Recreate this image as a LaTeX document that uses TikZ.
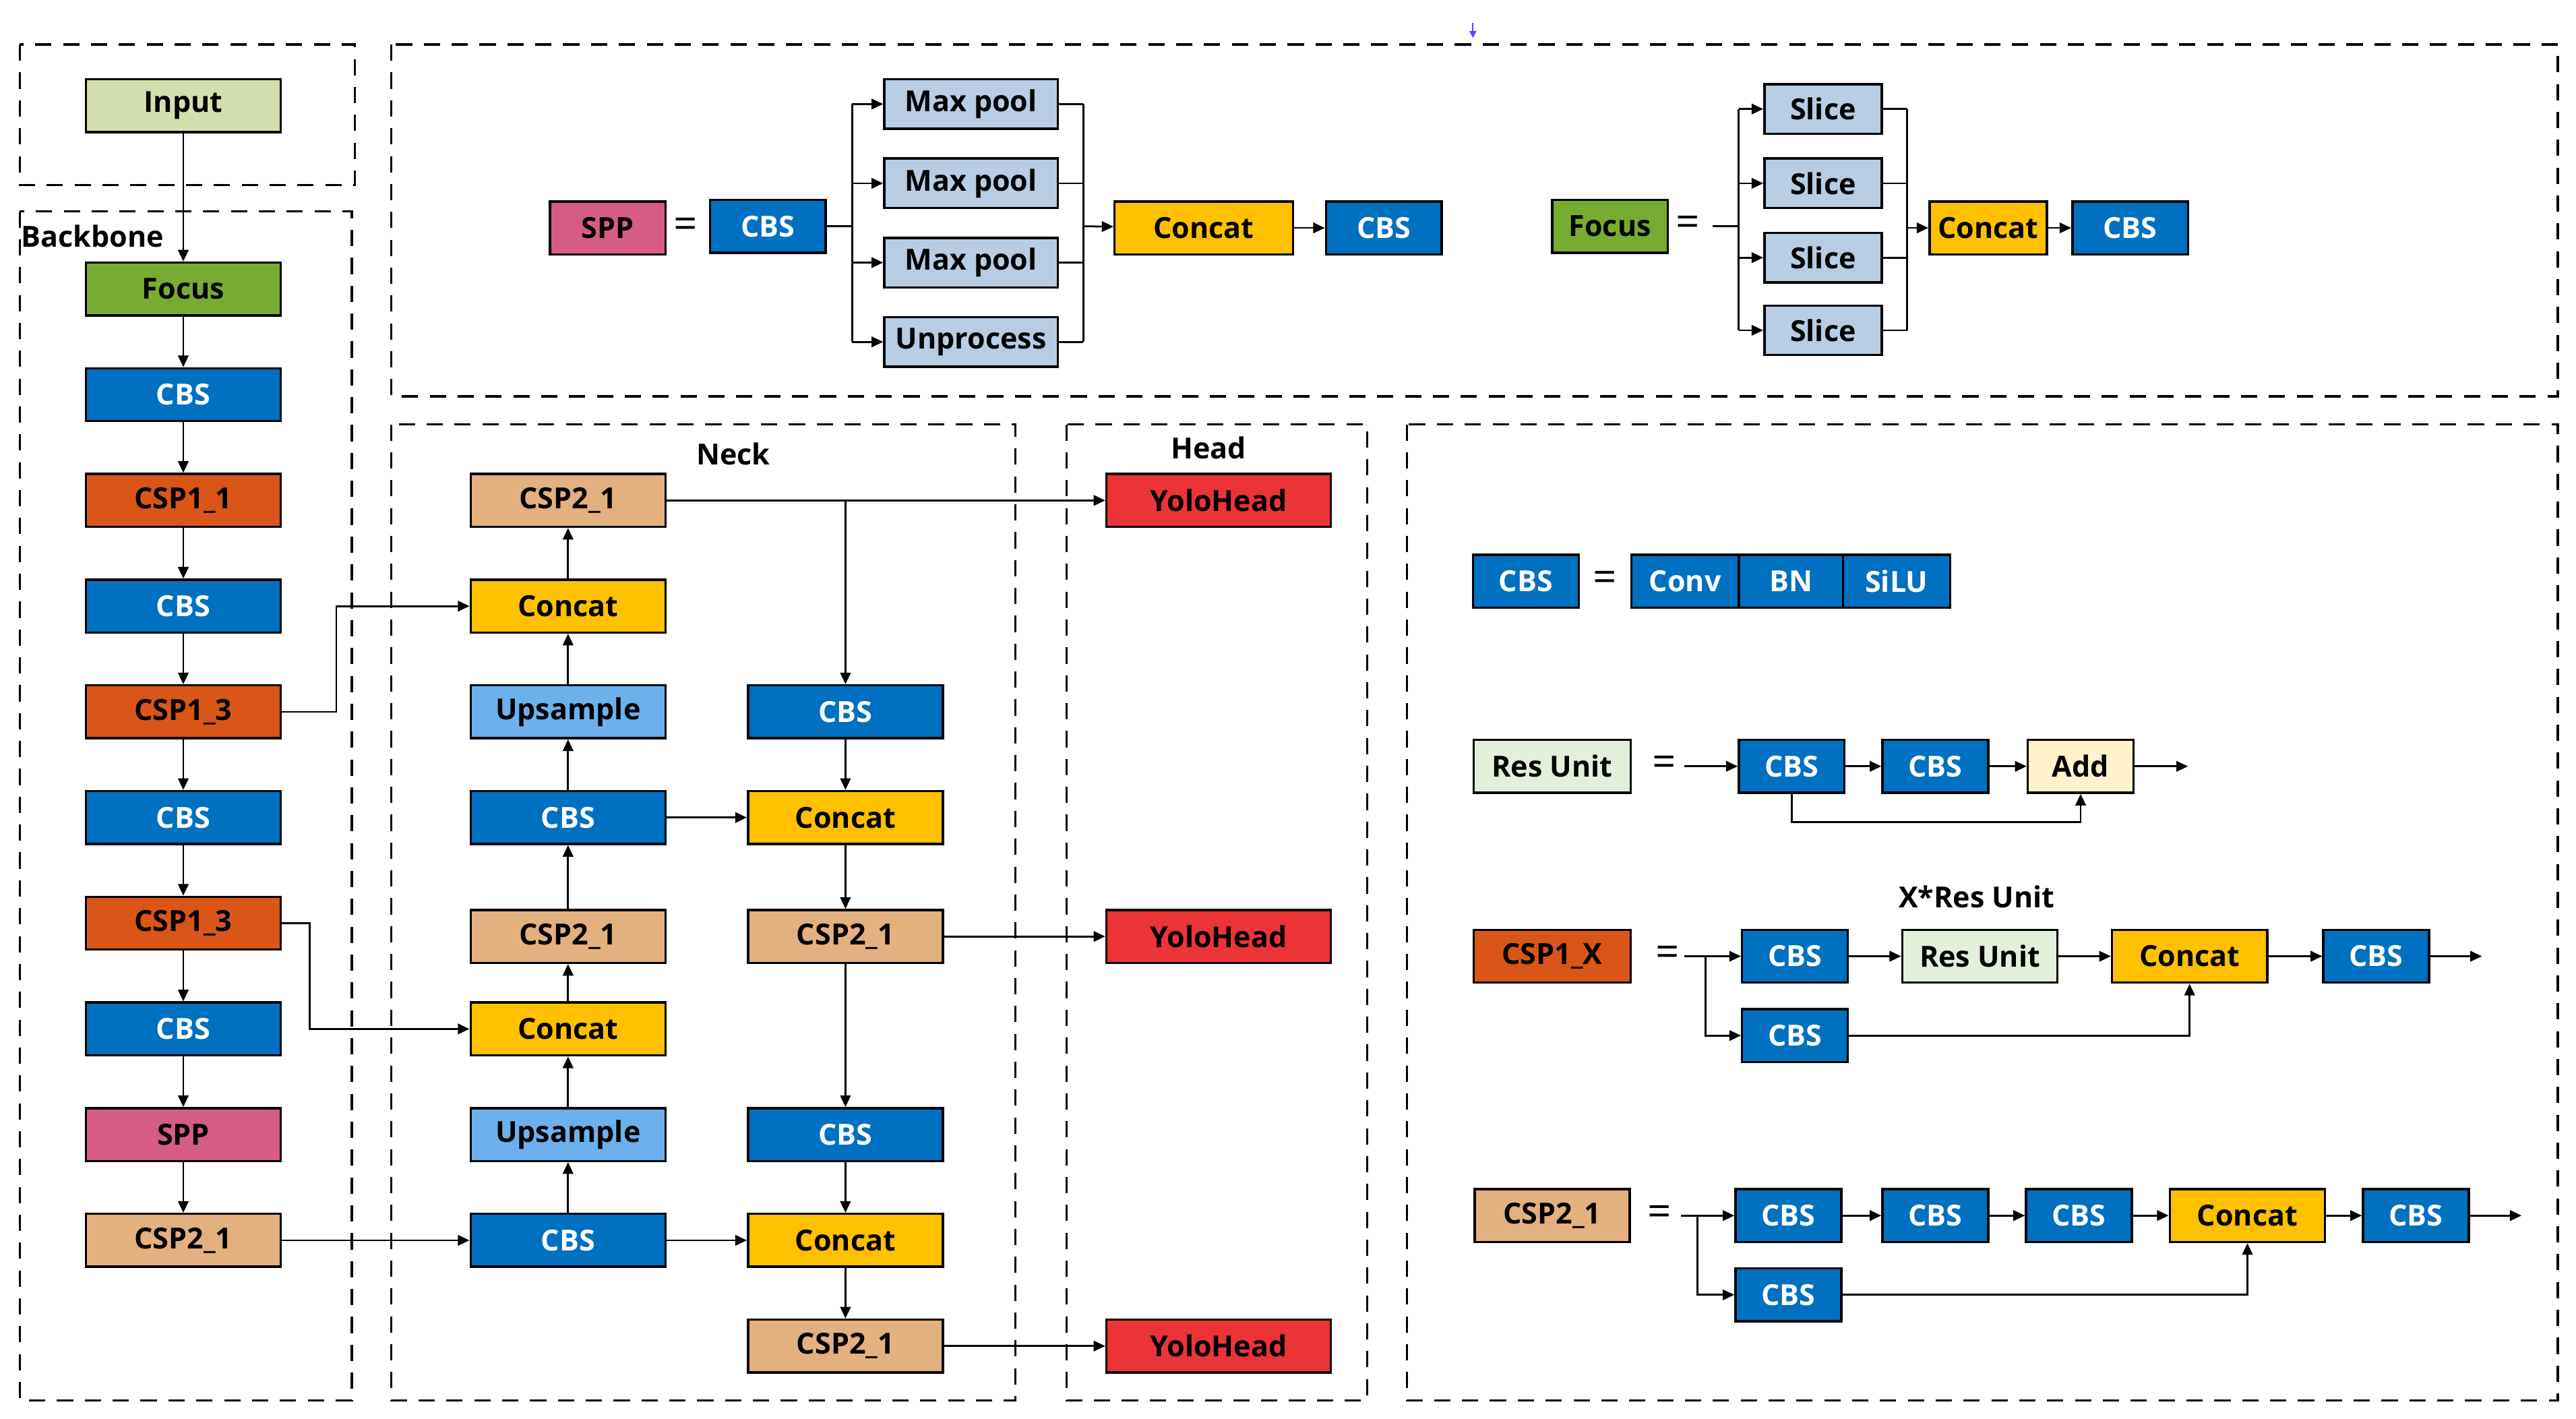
\documentclass[tikz,border=0pt]{standalone}
\usepackage{fontspec}
\setmainfont{Open Sans}
\usetikzlibrary{arrows.meta}
\def\pxu{*0.025cm}
\definecolor{cbs}{HTML}{0070C0}
\definecolor{inp}{HTML}{D3DFAE}
\definecolor{foc}{HTML}{78AB32}
\definecolor{csp1}{HTML}{D95618}
\definecolor{spp}{HTML}{D65C87}
\definecolor{csp2}{HTML}{E3B080}
\definecolor{cat}{HTML}{FFC000}
\definecolor{ups}{HTML}{6CB0EC}
\definecolor{yolo}{HTML}{EC3338}
\definecolor{mp}{HTML}{B8CCE4}
\definecolor{res}{HTML}{E2EFDA}
\definecolor{add}{HTML}{FFF2CC}
\begin{document}
\begin{tikzpicture}[x=0.025cm,y=-0.025cm,
  box/.style={draw=black,line width=1pt,inner sep=0pt,minimum height=32\pxu,font=\fontsize{12.5}{14}\selectfont\bfseries},
  w/.style={minimum width=#1\pxu},
  CBS/.style={box,fill=cbs,text=white},
  ar/.style={-{Triangle[length=5pt,width=4.5pt]},line width=0.8pt},
  ln/.style={line width=0.8pt},
  dsh/.style={line width=1pt,dash pattern=on 7pt off 5pt},
  lab/.style={font=\fontsize{12.5}{14}\selectfont\bfseries},
  eq/.style={font=\fontsize{18}{18}\selectfont}]
\useasboundingbox (0,0) rectangle (1560,859);
% dashed frames
\draw[dsh] (12,27) rectangle (215,112);
\draw[dsh] (12,128) rectangle (213,848);
\draw[dsh] (237,27) rectangle (1549,240);
\draw[dsh] (237,257) rectangle (615,848);
\draw[dsh] (646,257) rectangle (828,848);
\draw[dsh] (852,257) rectangle (1549,848);
\node[lab] (lbb) at (56,143) {Backbone};
\node[lab] (lneck) at (444,275) {Neck};
\node[lab] (lhead) at (732,271) {Head};
\coordinate (tm) at (892,14);
\coordinate (tm2) at (892,23);
\draw[-{Triangle[length=3pt,width=3pt]},blue!70,line width=0.6pt] (tm) -- (tm2);
% backbone
\node[box,w=118,fill=inp] (in) at (111,64) {Input};
\node[box,w=118,fill=foc] (fo) at (111,175) {Focus};
\node[CBS,w=118] (b1) at (111,239) {CBS};
\node[box,w=118,fill=csp1] (c11) at (111,303) {CSP1\_1};
\node[CBS,w=118] (b2) at (111,367) {CBS};
\node[box,w=118,fill=csp1] (c13a) at (111,431) {CSP1\_3};
\node[CBS,w=118] (b3) at (111,495) {CBS};
\node[box,w=118,fill=csp1] (c13b) at (111,559) {CSP1\_3};
\node[CBS,w=118] (b4) at (111,623) {CBS};
\node[box,w=118,fill=spp] (sp) at (111,687) {SPP};
\node[box,w=118,fill=csp2] (c21) at (111,751) {CSP2\_1};
\foreach \a/\b in {in/fo,fo/b1,b1/c11,c11/b2,b2/c13a,c13a/b3,b3/c13b,c13b/b4,b4/sp,sp/c21} \draw[ar] (\a) -- (\b);
% neck col A
\node[box,w=118,fill=csp2] (na1) at (344,303) {CSP2\_1};
\node[box,w=118,fill=cat] (na2) at (344,367) {Concat};
\node[box,w=118,fill=ups] (na3) at (344,431) {Upsample};
\node[CBS,w=118] (na4) at (344,495) {CBS};
\node[box,w=118,fill=csp2] (na5) at (344,567) {CSP2\_1};
\node[box,w=118,fill=cat] (na6) at (344,623) {Concat};
\node[box,w=118,fill=ups] (na7) at (344,687) {Upsample};
\node[CBS,w=118] (na8) at (344,751) {CBS};
\foreach \a/\b in {na8/na7,na7/na6,na6/na5,na5/na4,na4/na3,na3/na2,na2/na1} \draw[ar] (\a) -- (\b);
% neck col B
\node[CBS,w=118] (nb1) at (512,431) {CBS};
\node[box,w=118,fill=cat] (nb2) at (512,495) {Concat};
\node[box,w=118,fill=csp2] (nb3) at (512,567) {CSP2\_1};
\node[CBS,w=118] (nb4) at (512,687) {CBS};
\node[box,w=118,fill=cat] (nb5) at (512,751) {Concat};
\node[box,w=118,fill=csp2] (nb6) at (512,815) {CSP2\_1};
\foreach \a/\b in {nb1/nb2,nb2/nb3,nb3/nb4,nb4/nb5,nb5/nb6} \draw[ar] (\a) -- (\b);
% head
\node[box,w=136,fill=yolo] (h1) at (738,303) {YoloHead};
\node[box,w=136,fill=yolo] (h2) at (738,567) {YoloHead};
\node[box,w=136,fill=yolo] (h3) at (738,815) {YoloHead};
\draw[ar] (na1) -- (h1);
\draw[ar] (na1.east -| nb1) -- (nb1);
\draw[ar] (nb3) -- (h2);
\draw[ar] (nb6) -- (h3);
\draw[ar] (na4) -- (nb2);
\draw[ar] (na8) -- (nb5);
\draw[ar] (c21) -- (na8);
\draw[ar] (c13a.east) -- ++(33,0) |- (na2.west);
\draw[ar] (c13b.east) -- ++(17,0) |- (na6.west);
% SPP top
\node[box,w=70,fill=spp] (spp) at (368,138) {SPP};
\node[eq] (eq1) at (415,138) {=};
\node[CBS,w=70] (sc) at (465,137) {CBS};
\node[box,w=105,minimum height=30\pxu,fill=mp] (m1) at (588,63) {Max pool};
\node[box,w=105,minimum height=30\pxu,fill=mp] (m2) at (588,111) {Max pool};
\node[box,w=105,minimum height=30\pxu,fill=mp] (m3) at (588,159) {Max pool};
\node[box,w=105,minimum height=30\pxu,fill=mp] (m4) at (588,207) {Unprocess};
\node[box,w=108,fill=cat] (scat) at (729,138) {Concat};
\node[CBS,w=70] (sc2) at (838,138) {CBS};
\coordinate (sl) at (516,137);
\coordinate (sr) at (656,137);
\draw[ln] (sc.east) -- (sl);
\draw[ln] (sl |- m1) -- (sl |- m4);
\foreach \m in {m1,m2,m3,m4} {\draw[ar] (sl |- \m) -- (\m.west); \draw[ln] (\m.east) -- (sr |- \m);}
\draw[ln] (sr |- m1) -- (sr |- m4);
\draw[ar] (sr) -- (scat);
\draw[ar] (scat) -- (sc2);
% Focus top
\node[box,w=70,fill=foc] (ff) at (975,137) {Focus};
\node[eq] (eq2) at (1022,137) {=};
\node[box,w=71,minimum height=30\pxu,fill=mp] (s1) at (1104,66) {Slice};
\node[box,w=71,minimum height=30\pxu,fill=mp] (s2) at (1104,111) {Slice};
\node[box,w=71,minimum height=30\pxu,fill=mp] (s3) at (1104,156) {Slice};
\node[box,w=71,minimum height=30\pxu,fill=mp] (s4) at (1104,200) {Slice};
\node[box,w=71,fill=cat] (fcat) at (1204,138) {Concat};
\node[CBS,w=70] (fc) at (1290,138) {CBS};
\coordinate (fl0) at (1037,137);
\coordinate (fl) at (1053,137);
\coordinate (fr) at (1155,138);
\draw[ln] (fl0) -- (fl);
\draw[ln] (fl |- s1) -- (fl |- s4);
\foreach \m in {s1,s2,s3,s4} {\draw[ar] (fl |- \m) -- (\m.west); \draw[ln] (\m.east) -- (fr |- \m);}
\draw[ln] (fr |- s1) -- (fr |- s4);
\draw[ar] (fr) -- (fcat);
\draw[ar] (fcat) -- (fc);
% CBS def
\node[CBS,w=64] (d0) at (924,352) {CBS};
\node[eq] (eq3) at (972,352) {=};
\node[CBS,w=65] (d1) at (1020.5,352) {Conv};
\node[CBS,w=63] (d2) at (1084.5,352) {BN};
\node[CBS,w=65] (d3) at (1148.5,352) {SiLU};
% Res unit
\node[box,w=95,fill=res] (r0) at (940,464) {Res Unit};
\node[eq] (eq4) at (1008,464) {=};
\coordinate (r00) at (1020,464);
\node[CBS,w=64] (r1) at (1085,464) {CBS};
\node[CBS,w=64] (r2) at (1172,464) {CBS};
\node[box,w=64,fill=add] (r3) at (1260,464) {Add};
\coordinate (rout) at (1325,464);
\draw[ar] (r00) -- (r1); \draw[ar] (r1) -- (r2); \draw[ar] (r2) -- (r3); \draw[ar] (r3) -- (rout);
\draw[ar] (r1.south) -- ++(0,17) -| (r3.south);
% CSP1_X
\node[box,w=95,fill=csp1] (x0) at (940,579) {CSP1\_X};
\node[eq] (eq5) at (1010,579) {=};
\coordinate (x00) at (1020,579);
\coordinate (xb) at (1033,579);
\node[CBS,w=64] (x1) at (1087,579) {CBS};
\node[CBS,w=64] (x1b) at (1087,627) {CBS};
\node[box,w=94,fill=res] (x2) at (1199,579) {Res Unit};
\node[lab] (xl) at (1197,543) {X*Res Unit};
\node[box,w=94,fill=cat] (x3) at (1326,579) {Concat};
\node[CBS,w=64] (x4) at (1439,579) {CBS};
\coordinate (xout) at (1503,579);
\draw[ln] (x00) -- (xb);
\draw[ar] (xb) -- (x1); \draw[ar] (xb) |- (x1b.west);
\draw[ar] (x1) -- (x2); \draw[ar] (x2) -- (x3); \draw[ar] (x3) -- (x4); \draw[ar] (x4) -- (xout);
\draw[ar] (x1b.east) -| (x3.south);
% CSP2_1
\node[box,w=94,fill=csp2] (y0) at (940,736) {CSP2\_1};
\node[eq] (eq6) at (1005,736) {=};
\coordinate (y00) at (1018,736);
\coordinate (yb) at (1028,736);
\node[CBS,w=64] (y1) at (1083,736) {CBS};
\node[CBS,w=64] (y1b) at (1083,784) {CBS};
\node[CBS,w=64] (y2) at (1172,736) {CBS};
\node[CBS,w=64] (y3) at (1259,736) {CBS};
\node[box,w=94,fill=cat] (y4) at (1361,736) {Concat};
\node[CBS,w=64] (y5) at (1463,736) {CBS};
\coordinate (yout) at (1527,736);
\draw[ln] (y00) -- (yb);
\draw[ar] (yb) -- (y1); \draw[ar] (yb) |- (y1b.west);
\draw[ar] (y1) -- (y2); \draw[ar] (y2) -- (y3); \draw[ar] (y3) -- (y4); \draw[ar] (y4) -- (y5); \draw[ar] (y5) -- (yout);
\draw[ar] (y1b.east) -| (y4.south);
\end{tikzpicture}
\end{document}
